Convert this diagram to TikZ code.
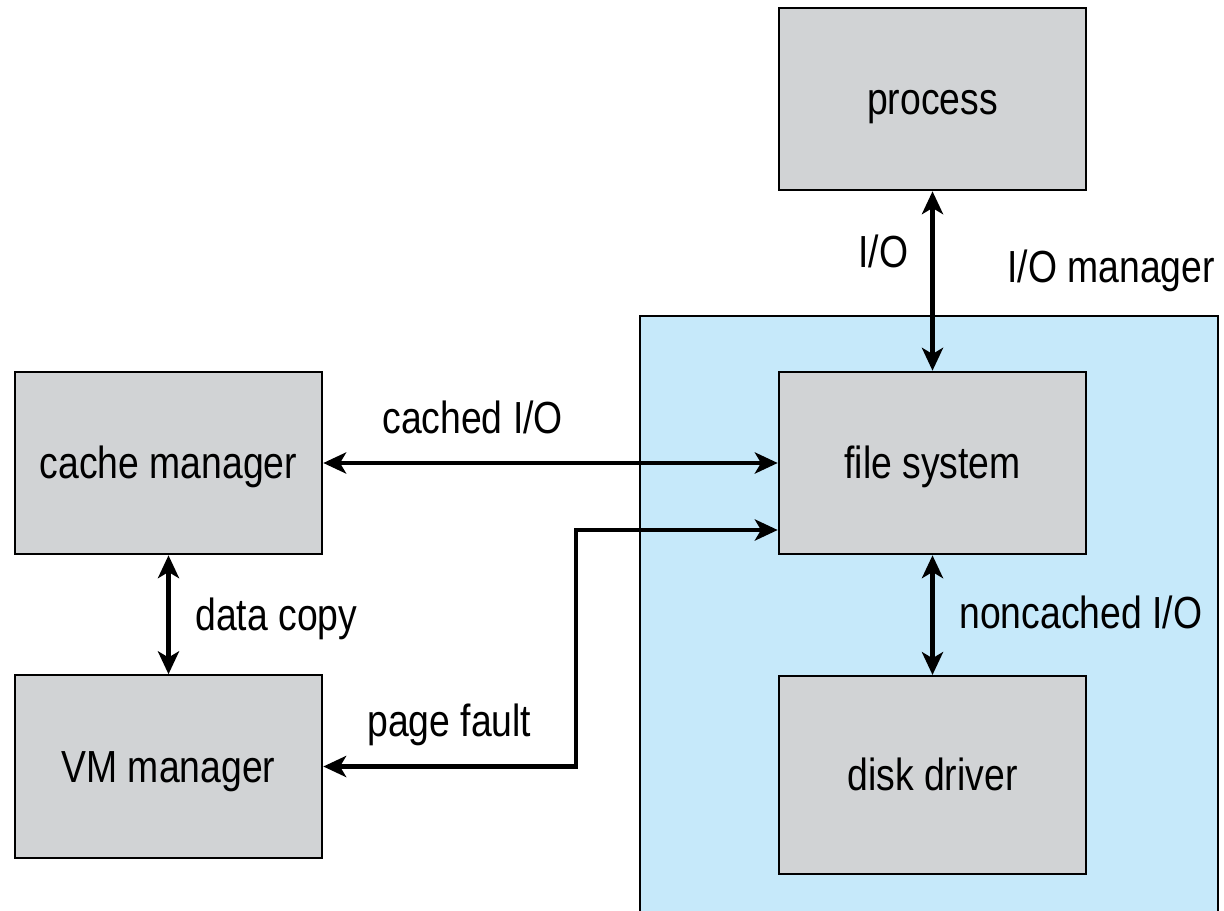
\documentclass[tikz,border=0pt]{standalone}
\usepackage{fontspec}
\setmainfont{Liberation Sans}[FakeStretch=0.83]
\usetikzlibrary{arrows.meta}
\usetikzlibrary{calc}

\begin{document}
\begin{tikzpicture}[
    module/.style={
      fill=mgray,
      draw=black,
      line width=1.2pt,
      minimum width=6.15cm,
      minimum height=3.65cm,
      text height=0.62cm,
      text depth=0pt,
      font=\fontsize{25.6}{30}\selectfont
    },
    tag/.style={
      inner sep=0pt,
      anchor=base west,
      font=\fontsize{25.6}{30}\selectfont
    },
    link/.style={
      <->,
      line width=2.8pt,
      >={Stealth[length=13pt,width=12pt,inset=3.5pt]}
    }]

\definecolor{mgray}{RGB}{209,211,213}
\definecolor{lblue}{RGB}{198,233,250}

\useasboundingbox (0,0) rectangle (24.48,-18.22);

% I/O manager region, open at the bottom
\fill[lblue] (12.8,-18.22) rectangle (24.36,-6.32);
\draw[line width=1.2pt] (12.8,-18.22) -- (12.8,-6.32) -- (24.36,-6.32) -- (24.36,-18.22);

\node[module] (proc) at (18.65,-1.98) {process};
\node[module] (fs) at (18.65,-9.26) {file system};
\node[module, minimum height=3.96cm] (disk) at (18.65,-15.5) {disk driver};
\node[module] (cache) at (3.37,-9.26) {cache manager};
\node[module] (vm) at (3.37,-15.33) {VM manager};

\coordinate (pfbend) at (11.52,-10.6);

\draw[link] (proc) -- (fs);
\draw[link] (cache) -- (fs);
\draw[link] (cache) -- (vm);
\draw[link] (fs) -- (disk);
\draw[link] (vm.east) -| (pfbend) -- (pfbend -| fs.west);

\node[tag] (lio) at (17.16,-5.34) {I/O};
\node[tag] (liomgr) at (20.14,-5.64) {I/O manager};
\node[tag] (lcached) at (7.64,-8.66) {cached I/O};
\node[tag] (lcopy) at (3.9,-12.6) {data copy};
\node[tag] (lnoncached) at (19.18,-12.56) {noncached I/O};
\node[tag] (lfault) at (7.34,-14.72) {page fault};

\end{tikzpicture}
\end{document}
